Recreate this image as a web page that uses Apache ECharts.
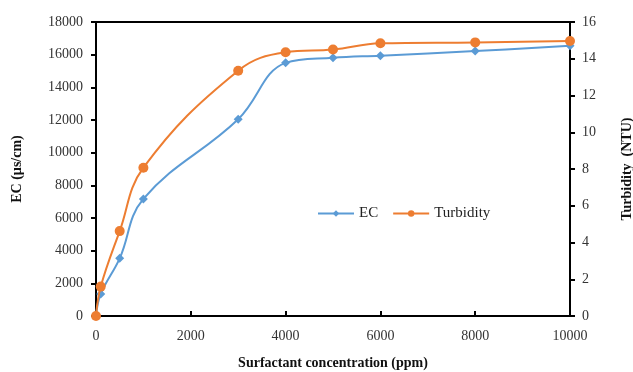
<!DOCTYPE html>
<html>
<head>
<meta charset="utf-8">
<script src="https://cdn.jsdelivr.net/npm/echarts@6/dist/echarts.min.js"></script>
<style>
  html, body { margin: 0; padding: 0; background: #fff; }
  #chart { width: 633px; height: 372px; }
</style>
</head>
<body>
<div id="chart"></div>
<script>
// Surfactant concentration (ppm)
const concentration = [0, 100, 500, 1000, 3000, 4000, 5000, 6000, 8000, 10000];
// Electrical conductivity (µs/cm)
const ecValues = [0, 1350, 3530, 7170, 12050, 15500, 15810, 15940, 16220, 16550];
// Turbidity (NTU)
const turbidityValues = [0, 1.6, 4.62, 8.07, 13.35, 14.35, 14.5, 14.84, 14.89, 14.97];

const pairs = (xs, ys) => xs.map((x, i) => [x, ys[i]]);
const plain = v => String(v);

const serif = '"Liberation Serif", "Times New Roman", serif';
const axisLine = { show: true, lineStyle: { color: '#000', width: 2 } };
const tickLabel = { fontFamily: serif, fontSize: 14, color: '#333', formatter: plain };

const chart = echarts.init(document.getElementById('chart'), null, { renderer: 'canvas' });
chart.setOption({
  animation: false,
  backgroundColor: '#fff',
  textStyle: { fontFamily: serif },
  grid: {
    left: 96, right: 63, top: 22, bottom: 56,
    containLabel: false, outerBoundsMode: 'none',
    show: true, borderColor: '#000', borderWidth: 2, backgroundColor: 'transparent'
  },
  legend: {
    left: 312, top: 201,
    itemWidth: 36, itemHeight: 8, itemGap: 14,
    textStyle: { fontFamily: serif, fontSize: 15, color: '#222' },
    data: ['EC', 'Turbidity']
  },
  xAxis: {
    type: 'value', min: 0, max: 10000, interval: 2000,
    name: 'Surfactant concentration (ppm)', nameLocation: 'middle', nameGap: 40,
    nameTextStyle: { fontFamily: serif, fontSize: 14, fontWeight: 'bold', color: '#111' },
    axisLine: axisLine,
    axisTick: { show: true, inside: true, length: 5, lineStyle: { color: '#000', width: 2 } },
    axisLabel: Object.assign({ margin: 13 }, tickLabel),
    splitLine: { show: false }
  },
  yAxis: [
    {
      type: 'value', min: 0, max: 18000, interval: 2000, position: 'left',
      name: 'EC (µs/cm)', nameLocation: 'middle', nameGap: 72, nameRotate: 90,
      nameTextStyle: { fontFamily: serif, fontSize: 14, fontWeight: 'bold', color: '#111' },
      axisLine: axisLine,
      axisTick: { show: true, inside: false, length: 5, lineStyle: { color: '#000', width: 2 } },
      axisLabel: Object.assign({ margin: 13 }, tickLabel),
      splitLine: { show: false }
    },
    {
      type: 'value', min: 0, max: 16, interval: 2, position: 'right',
      name: 'Turbidity  (NTU)', nameLocation: 'middle', nameGap: 50, nameRotate: 90,
      nameTextStyle: { fontFamily: serif, fontSize: 14, fontWeight: 'bold', color: '#111' },
      axisLine: axisLine,
      axisTick: { show: true, inside: false, length: 5, lineStyle: { color: '#000', width: 2 } },
      axisLabel: Object.assign({ margin: 12 }, tickLabel),
      splitLine: { show: false }
    }
  ],
  series: [
    {
      name: 'EC', type: 'line', yAxisIndex: 0,
      data: pairs(concentration, ecValues),
      smooth: 0.4,
      symbol: 'diamond', symbolSize: 9,
      lineStyle: { color: '#5B9BD5', width: 2 },
      itemStyle: { color: '#5B9BD5' },
      z: 2
    },
    {
      name: 'Turbidity', type: 'line', yAxisIndex: 1,
      data: pairs(concentration, turbidityValues),
      smooth: 0.4,
      symbol: 'circle', symbolSize: 10,
      lineStyle: { color: '#ED7D31', width: 2 },
      itemStyle: { color: '#ED7D31' },
      z: 3
    }
  ]
});
</script>
</body>
</html>
